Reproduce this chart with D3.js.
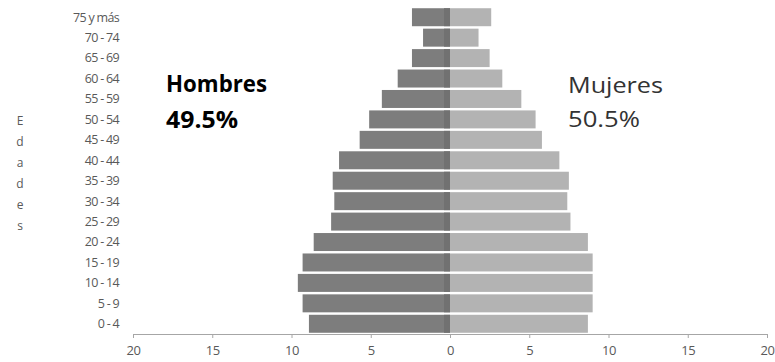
<!DOCTYPE html>
<html>
<head>
<meta charset="utf-8">
<script src="https://cdn.jsdelivr.net/npm/d3@7"></script>
<style>
  html, body { margin: 0; padding: 0; background: #fff; }
  svg { display: block; }
</style>
</head>
<body>
<svg id="chart" width="775" height="362"></svg>
<script>
// Age groups, youngest at the bottom
const ageGroups = ["0 - 4", "5 - 9", "10 - 14", "15 - 19", "20 - 24", "25 - 29", "30 - 34",
  "35 - 39", "40 - 44", "45 - 49", "50 - 54", "55 - 59", "60 - 64", "65 - 69", "70 - 74", "75 y más"];
// Percentage of population per age group
const hombres = [8.9, 9.3, 9.6, 9.3, 8.6, 7.5, 7.3, 7.4, 7.0, 5.7, 5.1, 4.3, 3.3, 2.4, 1.7, 2.4];
const mujeres = [8.7, 9.0, 9.0, 9.0, 8.7, 7.6, 7.4, 7.5, 6.9, 5.8, 5.4, 4.5, 3.3, 2.5, 1.8, 2.6];
const xTicks = [-20, -15, -10, -5, 0, 5, 10, 15, 20];
const axisTitle = "Edades";

const svg = d3.select("#chart");
const plotLeft = 133, plotRight = 767, plotTop = 7, plotBottom = 334;

const x = d3.scaleLinear().domain([-20, 20]).range([plotLeft, plotRight]);
const y = d3.scaleBand().domain(ageGroups.slice().reverse()).range([plotTop, plotBottom]).paddingInner(0.12).paddingOuter(0.06);

const font = "'Open Sans', 'Liberation Sans', sans-serif";

// Bars
const g = svg.append("g");
g.selectAll("rect.h").data(ageGroups).join("rect")
  .attr("class", "h")
  .attr("x", (d, i) => x(-hombres[i]))
  .attr("y", d => y(d))
  .attr("width", (d, i) => x(0) - x(-hombres[i]))
  .attr("height", y.bandwidth())
  .attr("fill", "#7d7d7d");
g.selectAll("rect.m").data(ageGroups).join("rect")
  .attr("class", "m")
  .attr("x", x(0))
  .attr("y", d => y(d))
  .attr("width", (d, i) => x(mujeres[i]) - x(0))
  .attr("height", y.bandwidth())
  .attr("fill", "#b3b3b3");
// darker shading just left of the zero line on the men's bars
g.selectAll("rect.s").data(ageGroups).join("rect")
  .attr("class", "s")
  .attr("x", x(0) - 6)
  .attr("y", d => y(d))
  .attr("width", 6)
  .attr("height", y.bandwidth())
  .attr("fill", "#717171");

// Category labels
svg.append("g").selectAll("text").data(ageGroups).join("text")
  .attr("x", 119)
  .attr("y", d => y(d) + y.bandwidth() / 2)
  .attr("dy", "0.35em")
  .attr("text-anchor", "end")
  .attr("font-family", font)
  .attr("font-size", 12.5)
  .attr("letter-spacing", -0.7)
  .attr("fill", "#595959")
  .text(d => d);

// Bottom axis
const axis = d3.axisBottom(x).tickValues(xTicks).tickFormat(d => Math.abs(d)).tickSize(4).tickSizeOuter(0);
const ax = svg.append("g").attr("transform", `translate(0,${plotBottom})`).call(axis);
ax.select(".domain").attr("stroke", "#a6a6a6").attr("stroke-width", 1.2);
ax.selectAll(".tick line").attr("stroke", "#a6a6a6");
ax.selectAll(".tick text")
  .attr("font-family", font)
  .attr("font-size", 13)
  .attr("letter-spacing", -0.5)
  .attr("fill", "#595959")
  .attr("y", 12)
  .attr("dy", "0.71em");

// Vertical axis title, one letter per line
svg.append("g").selectAll("text").data(axisTitle.split("")).join("text")
  .attr("x", 20)
  .attr("y", (d, i) => 121 + i * 21)
  .attr("dy", "0.35em")
  .attr("text-anchor", "middle")
  .attr("font-family", font)
  .attr("font-size", 12)
  .attr("fill", "#595959")
  .text(d => d);

// Group labels
const lab = [
  { t: "Hombres", x: 166, y: 92, w: "bold", len: 101 },
  { t: "49.5%", x: 166, y: 128, w: "bold", len: 72 },
  { t: "Mujeres", x: 568, y: 93, w: "normal", len: 95 },
  { t: "50.5%", x: 568, y: 127, w: "normal", len: 72 }
];
svg.append("g").selectAll("text").data(lab).join("text")
  .attr("x", d => d.x)
  .attr("y", d => d.y)
  .attr("font-family", font)
  .attr("font-size", d => d.w === "bold" ? 23.5 : 22.5)
  .attr("font-weight", d => d.w)
  .attr("textLength", d => d.len)
  .attr("lengthAdjust", "spacingAndGlyphs")
  .attr("fill", d => d.w === "bold" ? "#000" : "#333")
  .text(d => d.t);
</script>
</body>
</html>
